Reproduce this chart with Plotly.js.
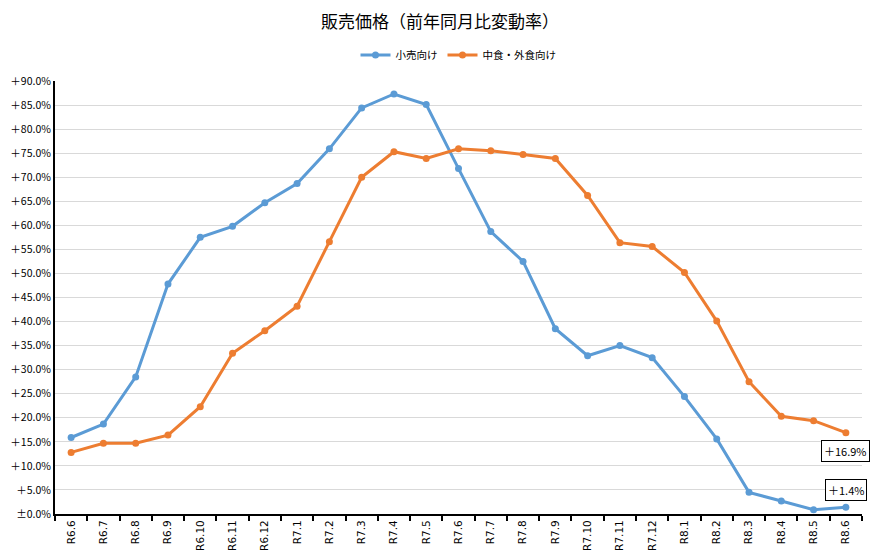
<!DOCTYPE html>
<html>
<head>
<meta charset="utf-8">
<script src="https://cdn.plot.ly/plotly-3.0.1.min.js"></script>
<style>
  html, body { margin: 0; padding: 0; background: #fff; }
  #chart { width: 880px; height: 559px; }
</style>
</head>
<body>
<div id="chart"></div>
<script>
// 月（令和）
var months = ['R6.6', 'R6.7', 'R6.8', 'R6.9', 'R6.10', 'R6.11', 'R6.12',
  'R7.1', 'R7.2', 'R7.3', 'R7.4', 'R7.5', 'R7.6', 'R7.7', 'R7.8', 'R7.9',
  'R7.10', 'R7.11', 'R7.12', 'R8.1', 'R8.2', 'R8.3', 'R8.4', 'R8.5', 'R8.6'];

// 小売向け（%）
var retail = [15.9, 18.7, 28.5, 47.8, 57.5, 59.8, 64.7, 68.7, 75.9, 84.4,
  87.3, 85.1, 71.8, 58.7, 52.5, 38.5, 32.9, 35.0, 32.5, 24.4, 15.6, 4.5,
  2.7, 0.9, 1.4];

// 中食・外食向け（%）
var foodService = [12.8, 14.7, 14.7, 16.4, 22.3, 33.4, 38.1, 43.2, 56.6,
  70.0, 75.3, 73.9, 75.9, 75.5, 74.7, 73.9, 66.2, 56.4, 55.6, 50.2, 40.1,
  27.5, 20.3, 19.4, 16.9];

var yTicks = [0, 5, 10, 15, 20, 25, 30, 35, 40, 45, 50, 55, 60, 65, 70, 75, 80, 85, 90];
var yTickText = yTicks.map(function (v) {
  return v === 0 ? '±0.0%' : '＋' + v.toFixed(1) + '%';
});

var jp = '"Noto Sans CJK JP", "Noto Sans", sans-serif';
var num = 'DejaVu Sans, sans-serif';

var data = [
  {
    type: 'scatter',
    mode: 'lines+markers',
    name: '小売向け',
    x: months,
    y: retail,
    line: { color: '#5b9bd5', width: 3 },
    marker: { color: '#5b9bd5', size: 7 }
  },
  {
    type: 'scatter',
    mode: 'lines+markers',
    name: '中食・外食向け',
    x: months,
    y: foodService,
    line: { color: '#ed7d31', width: 3 },
    marker: { color: '#ed7d31', size: 7 }
  }
];

var last = months.length - 1;

var layout = {
  width: 880,
  height: 559,
  margin: { l: 55, r: 18, t: 81, b: 45 },
  paper_bgcolor: '#fff',
  plot_bgcolor: '#fff',
  font: { family: jp, size: 10, color: '#000' },
  title: {
    text: '販売価格（前年同月比変動率）',
    font: { family: jp, size: 17, color: '#000' },
    x: 0.5,
    xanchor: 'center',
    y: 0.96,
    yanchor: 'middle'
  },
  showlegend: true,
  legend: {
    orientation: 'h',
    x: 0.5,
    xanchor: 'center',
    y: 1.06,
    yanchor: 'middle',
    font: { family: jp, size: 10.5, color: '#000' },
    itemwidth: 30
  },
  xaxis: {
    type: 'category',
    range: [-0.5, months.length - 0.5],
    showgrid: false,
    showline: true,
    linecolor: '#000',
    linewidth: 2,
    ticks: 'outside',
    tickson: 'boundaries',
    ticklen: 5,
    tickwidth: 2,
    tickcolor: '#000',
    tickangle: -90,
    tickfont: { family: num, size: 10.5, color: '#000' },
    zeroline: false
  },
  yaxis: {
    range: [0, 90],
    tickvals: yTicks,
    ticktext: yTickText,
    showgrid: true,
    gridcolor: '#d9d9d9',
    gridwidth: 1,
    showline: true,
    linecolor: '#000',
    linewidth: 2,
    ticks: '',
    zeroline: false,
    tickfont: { family: jp, size: 10.5, color: '#000' }
  },
  annotations: [
    {
      x: months[last], y: foodService[last],
      xref: 'x', yref: 'y',
      text: '＋16.9%',
      showarrow: false,
      xanchor: 'center', yanchor: 'top',
      yshift: -7,
      bordercolor: '#000', borderwidth: 1, borderpad: 2,
      bgcolor: '#fff',
      font: { family: jp, size: 11, color: '#000' }
    },
    {
      x: months[last], y: retail[last],
      xref: 'x', yref: 'y',
      text: '＋1.4%',
      showarrow: false,
      xanchor: 'center', yanchor: 'bottom',
      yshift: 6,
      bordercolor: '#000', borderwidth: 1, borderpad: 2,
      bgcolor: '#fff',
      font: { family: jp, size: 11, color: '#000' }
    }
  ]
};

Plotly.newPlot('chart', data, layout, { displayModeBar: false, staticPlot: true });
</script>
</body>
</html>
